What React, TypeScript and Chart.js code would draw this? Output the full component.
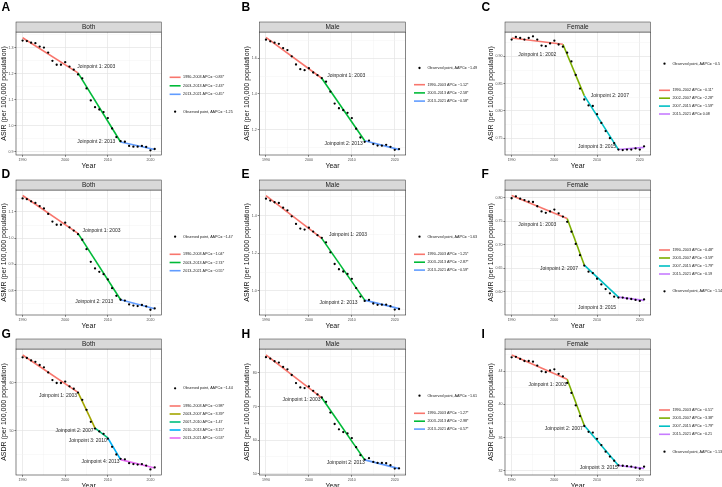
import React, { useEffect, useRef } from 'react';
import { Chart, registerables } from 'chart.js';

Chart.register(...registerables);

const FONT = '"Liberation Sans", Arial, Helvetica, sans-serif';

// ---------- data ----------
const years = [
  1990, 1991, 1992, 1993, 1994, 1995, 1996, 1997, 1998, 1999, 2000, 2001, 2002, 2003, 2004, 2005,
  2006, 2007, 2008, 2009, 2010, 2011, 2012, 2013, 2014, 2015, 2016, 2017, 2018, 2019, 2020, 2021,
];
const yearTicks = [1990, 2000, 2010, 2020];

// Age-standardised incidence rate
const asirBoth = [
  1.327, 1.325, 1.319, 1.317, 1.304, 1.3, 1.281, 1.249, 1.234, 1.234, 1.244, 1.227, 1.215, 1.197, 1.182, 1.143,
  1.097, 1.071, 1.062, 1.052, 1.029, 0.989, 0.956, 0.94, 0.938, 0.922, 0.919, 0.919, 0.922, 0.918, 0.905, 0.91,
];
const asirMale = [
  1.704, 1.695, 1.687, 1.681, 1.657, 1.646, 1.611, 1.565, 1.539, 1.533, 1.544, 1.52, 1.505, 1.489, 1.469, 1.413,
  1.346, 1.32, 1.309, 1.294, 1.265, 1.205, 1.156, 1.132, 1.139, 1.119, 1.111, 1.11, 1.115, 1.104, 1.087, 1.091,
];
const asirFemale = [
  0.931, 0.936, 0.934, 0.931, 0.934, 0.937, 0.931, 0.92, 0.919, 0.924, 0.929, 0.922, 0.918, 0.907, 0.891, 0.866,
  0.841, 0.821, 0.81, 0.809, 0.794, 0.778, 0.763, 0.75, 0.741, 0.729, 0.728, 0.729, 0.729, 0.731, 0.729, 0.735,
];
// Age-standardised mortality rate
const asmrBoth = [
  1.151, 1.148, 1.14, 1.134, 1.122, 1.113, 1.092, 1.063, 1.051, 1.051, 1.059, 1.041, 1.029, 1.015, 0.994, 0.958,
  0.91, 0.885, 0.872, 0.863, 0.843, 0.81, 0.781, 0.766, 0.763, 0.748, 0.744, 0.742, 0.746, 0.741, 0.728, 0.733,
];
const asmrMale = [
  1.49, 1.48, 1.471, 1.467, 1.442, 1.428, 1.396, 1.356, 1.331, 1.326, 1.336, 1.315, 1.296, 1.282, 1.258, 1.205,
  1.143, 1.115, 1.103, 1.09, 1.064, 1.015, 0.97, 0.947, 0.952, 0.933, 0.926, 0.927, 0.927, 0.919, 0.901, 0.904,
];
const asmrFemale = [
  0.799, 0.803, 0.798, 0.795, 0.792, 0.791, 0.782, 0.771, 0.768, 0.771, 0.775, 0.767, 0.76, 0.749, 0.728, 0.702,
  0.678, 0.656, 0.643, 0.64, 0.628, 0.616, 0.606, 0.597, 0.59, 0.588, 0.588, 0.586, 0.585, 0.583, 0.581, 0.584,
];
// Age-standardised DALY rate
const asdrBoth = [
  65.35, 65.2, 64.7, 64.4, 63.75, 63.26, 62.2, 60.6, 60.0, 60.0, 60.3, 59.3, 58.8, 58.0, 56.5, 54.4,
  51.9, 50.5, 49.9, 49.4, 48.4, 46.7, 45.1, 44.2, 44.1, 43.3, 43.1, 43.0, 43.1, 42.8, 42.0, 42.4,
];
const asdrMale = [
  84.7, 84.3, 83.5, 83.1, 81.8, 81.1, 79.4, 77.0, 75.7, 75.5, 76.0, 74.7, 73.6, 72.7, 71.4, 68.2,
  64.8, 63.2, 62.4, 62.0, 60.6, 57.9, 55.5, 54.2, 54.6, 53.5, 53.2, 53.2, 53.1, 52.5, 51.5, 51.6,
];
const asdrFemale = [
  45.7, 45.75, 45.5, 45.25, 45.25, 45.17, 44.7, 44.0, 43.9, 44.1, 44.24, 43.7, 43.4, 42.6, 41.4, 39.9,
  38.6, 37.4, 36.7, 36.6, 35.85, 35.1, 34.3, 33.7, 33.2, 32.64, 32.6, 32.55, 32.5, 32.36, 32.24, 32.48,
];

// Joinpoint years and fitted values at each joinpoint
const asirBothJoin = [1990, 2003, 2013, 2021];
const asirBothFit = [1.338, 1.203, 0.937, 0.908];
const asirBothApc = ['−0.83*', '−2.43*', '−0.45*'];
const asirMaleJoin = [1990, 2003, 2013, 2021];
const asirMaleFit = [1.717, 1.488, 1.138, 1.088];
const asirMaleApc = ['−1.12*', '−2.58*', '−0.58*'];
const asirFemaleJoin = [1990, 2002, 2007, 2015, 2021];
const asirFemaleFit = [0.934, 0.9225, 0.828, 0.729, 0.733];
const asirFemaleApc = ['−0.11*', '−2.28*', '−1.59*', '0.08'];
const asmrBothJoin = [1990, 2003, 2013, 2021];
const asmrBothFit = [1.162, 1.018, 0.766, 0.732];
const asmrBothApc = ['−1.04*', '−2.74*', '−0.55*'];
const asmrMaleJoin = [1990, 2003, 2013, 2021];
const asmrMaleFit = [1.506, 1.279, 0.951, 0.906];
const asmrMaleApc = ['−1.25*', '−2.87*', '−0.59*'];
const asmrFemaleJoin = [1990, 2003, 2007, 2015, 2021];
const asmrFemaleFit = [0.805, 0.756, 0.657, 0.589, 0.582];
const asmrFemaleApc = ['−0.48*', '−3.59*', '−1.79*', '−0.19'];
const asdrBothJoin = [1990, 2003, 2007, 2010, 2013, 2021];
const asdrBothFit = [65.83, 58.06, 50.6, 48.54, 44.03, 42.3];
const asdrBothApc = ['−0.98*', '−3.39*', '−1.47', '−3.15*', '−0.53*'];
const asdrMaleJoin = [1990, 2003, 2013, 2021];
const asdrMaleFit = [85.4, 72.6, 54.1, 51.5];
const asdrMaleApc = ['−1.27*', '−2.98*', '−0.57*'];
const asdrFemaleJoin = [1990, 2003, 2007, 2015, 2021];
const asdrFemaleFit = [45.97, 43.05, 37.45, 32.62, 32.28];
const asdrFemaleApc = ['−0.51*', '−3.38*', '−1.79*', '−0.21'];

const aapcValues = ['−1.25', '−1.49', '−0.5', '−1.47', '−1.63', '−1.14', '−1.44', '−1.61', '−1.13'];

// Y-axis tick labels
const asirBothTicks = [0.9, 1.0, 1.1, 1.2, 1.3];
const asirMaleTicks = [1.2, 1.4, 1.6];
const asirFemaleTicks = [0.75, 0.8, 0.85, 0.9];
const asmrBothTicks = [0.8, 0.9, 1.0, 1.1];
const asmrMaleTicks = [1.0, 1.2, 1.4];
const asmrFemaleTicks = [0.6, 0.65, 0.7, 0.75, 0.8];
const asdrBothTicks = [50, 60];
const asdrMaleTicks = [50, 60, 70, 80];
const asdrFemaleTicks = [32, 36, 40, 44];

// ---------- styling / layout ----------
const PALETTES: Record<number, string[]> = {
  3: ['#F8766D', '#00BA38', '#619CFF'],
  4: ['#F8766D', '#7CAE00', '#00BFC4', '#C77CFF'],
  5: ['#F8766D', '#A3A500', '#00BF7D', '#00B0F6', '#E76BF3'],
};

const COLS = [
  { x: 0, w: 240, padL: 0, yW: 16, plotRight: 161.3 },
  { x: 240, w: 240, padL: 2.8, yW: 16.5, plotRight: 165.7 },
  { x: 480, w: 242, padL: 6.8, yW: 18.2, plotRight: 170.7 },
];
const ROWS = [
  { y: 0, h: 170, letterY: 11 },
  { y: 158, h: 172, letterY: 20.3 },
  { y: 317, h: 173, letterY: 20.5 },
];
const PLOT_TOP = 32;
const X_AXIS_H = 15;
const STRIP_H = 10;

type PanelCfg = {
  letter: string;
  col: number;
  row: number;
  strip: string;
  yTitle: string;
  observed: number[];
  joinYears: number[];
  fit: number[];
  apc: string[];
  aapc: string;
  yMin: number;
  yMax: number;
  yTicks: number[];
  yDecimals: number;
  jpAnchors: [number, number][];
  linesFirst: boolean;
  pointY: number;
  lineY: number;
  lineStep: number;
};

const panels: PanelCfg[] = [
  {
    letter: 'A', col: 0, row: 0, strip: 'Both', yTitle: 'ASIR (per 100,000 population)',
    observed: asirBoth, joinYears: asirBothJoin, fit: asirBothFit, apc: asirBothApc, aapc: aapcValues[0],
    yMin: 0.887, yMax: 1.36, yTicks: asirBothTicks, yDecimals: 1,
    jpAnchors: [[2007.3, 1.227], [2007.3, 0.937]],
    linesFirst: true, pointY: 111.7, lineY: 77.3, lineStep: 8.5,
  },
  {
    letter: 'B', col: 1, row: 0, strip: 'Male', yTitle: 'ASIR (per 100,000 population)',
    observed: asirMale, joinYears: asirMaleJoin, fit: asirMaleFit, apc: asirMaleApc, aapc: aapcValues[1],
    yMin: 1.058, yMax: 1.747, yTicks: asirMaleTicks, yDecimals: 1,
    jpAnchors: [[2008.7, 1.502], [2008.1, 1.124]],
    linesFirst: false, pointY: 68, lineY: 84.7, lineStep: 8.2,
  },
  {
    letter: 'C', col: 2, row: 0, strip: 'Female', yTitle: 'ASIR (per 100,000 population)',
    observed: asirFemale, joinYears: asirFemaleJoin, fit: asirFemaleFit, apc: asirFemaleApc, aapc: aapcValues[2],
    yMin: 0.719, yMax: 0.945, yTicks: asirFemaleTicks, yDecimals: 2,
    jpAnchors: [[1996.0, 0.904], [2013.0, 0.829], [2010.0, 0.7335]],
    linesFirst: false, pointY: 63.7, lineY: 90.3, lineStep: 7.9,
  },
  {
    letter: 'D', col: 0, row: 1, strip: 'Both', yTitle: 'ASMR (per 100,000 population)',
    observed: asmrBoth, joinYears: asmrBothJoin, fit: asmrBothFit, apc: asmrBothApc, aapc: aapcValues[3],
    yMin: 0.708, yMax: 1.183, yTicks: asmrBothTicks, yDecimals: 1,
    jpAnchors: [[2008.5, 1.029], [2006.8, 0.758]],
    linesFirst: false, pointY: 78.7, lineY: 96.3, lineStep: 8.2,
  },
  {
    letter: 'E', col: 1, row: 1, strip: 'Male', yTitle: 'ASMR (per 100,000 population)',
    observed: asmrMale, joinYears: asmrMaleJoin, fit: asmrMaleFit, apc: asmrMaleApc, aapc: aapcValues[4],
    yMin: 0.872, yMax: 1.536, yTicks: asmrMaleTicks, yDecimals: 1,
    jpAnchors: [[2009.1, 1.299], [2006.9, 0.936]],
    linesFirst: false, pointY: 78.7, lineY: 96.3, lineStep: 7.9,
  },
  {
    letter: 'F', col: 2, row: 1, strip: 'Female', yTitle: 'ASMR (per 100,000 population)',
    observed: asmrFemale, joinYears: asmrFemaleJoin, fit: asmrFemaleFit, apc: asmrFemaleApc, aapc: aapcValues[5],
    yMin: 0.551, yMax: 0.8165, yTicks: asmrFemaleTicks, yDecimals: 2,
    jpAnchors: [[1996.0, 0.743], [2001.1, 0.65], [2010.0, 0.567]],
    linesFirst: true, pointY: 133.3, lineY: 92, lineStep: 8,
  },
  {
    letter: 'G', col: 0, row: 2, strip: 'Both', yTitle: 'ASDR (per 100,000 population)',
    observed: asdrBoth, joinYears: asdrBothJoin, fit: asdrBothFit, apc: asdrBothApc, aapc: aapcValues[6],
    yMin: 40.83, yMax: 67.08, yTicks: asdrBothTicks, yDecimals: 0,
    jpAnchors: [[1998.3, 57.36], [2002.2, 50.07], [2005.3, 48.0], [2008.3, 43.7]],
    linesFirst: false, pointY: 71.3, lineY: 89, lineStep: 8,
  },
  {
    letter: 'H', col: 1, row: 2, strip: 'Male', yTitle: 'ASDR (per 100,000 population)',
    observed: asdrMale, joinYears: asdrMaleJoin, fit: asdrMaleFit, apc: asdrMaleApc, aapc: aapcValues[7],
    yMin: 49.6, yMax: 87.15, yTicks: asdrMaleTicks, yDecimals: 0,
    jpAnchors: [[1998.3, 72.0], [2008.6, 53.35]],
    linesFirst: false, pointY: 78.7, lineY: 96.3, lineStep: 7.9,
  },
  {
    letter: 'I', col: 2, row: 2, strip: 'Female', yTitle: 'ASDR (per 100,000 population)',
    observed: asdrFemale, joinYears: asdrFemaleJoin, fit: asdrFemaleFit, apc: asdrFemaleApc, aapc: aapcValues[8],
    yMin: 31.48, yMax: 46.7, yTicks: asdrFemaleTicks, yDecimals: 0,
    jpAnchors: [[1998.4, 42.39], [2002.2, 37.14], [2010.4, 32.4]],
    linesFirst: true, pointY: 134.7, lineY: 93, lineStep: 8.1,
  },
];

// midpoints between major breaks (ggplot-style minor grid)
function withMinors(majors: number[], lo: number, hi: number) {
  const step = majors.length > 1 ? majors[1] - majors[0] : 10;
  const minors: number[] = [];
  for (let i = -1; i < majors.length; i++) {
    const base = i < 0 ? majors[0] - step : majors[i];
    const m = base + step / 2;
    if (m > lo && m < hi) minors.push(+m.toFixed(6));
  }
  return [...majors.filter((v) => v >= lo && v <= hi), ...minors].sort((a, b) => a - b);
}

const isIn = (arr: number[], v: number) => arr.some((m) => Math.abs(m - v) < 1e-7);

function JoinpointPanel({ cfg }: { cfg: PanelCfg }) {
  const ref = useRef<HTMLCanvasElement | null>(null);
  const col = COLS[cfg.col];
  const row = ROWS[cfg.row];

  useEffect(() => {
    const canvas = ref.current;
    if (!canvas) return;
    const nSeg = cfg.joinYears.length - 1;
    const palette = PALETTES[nSeg];
    const xMin = 1988.45;
    const xMax = 2022.55;
    const xAll = withMinors(yearTicks, xMin, xMax);
    const yAll = withMinors(cfg.yTicks, cfg.yMin, cfg.yMax);

    const segLabel = (i: number) =>
      `${cfg.joinYears[i]}–${cfg.joinYears[i + 1]} APC= ${cfg.apc[i]}`;

    const segments = cfg.apc.map((_, i) => ({
      label: segLabel(i),
      data: [
        { x: cfg.joinYears[i], y: cfg.fit[i] },
        { x: cfg.joinYears[i + 1], y: cfg.fit[i + 1] },
      ],
      showLine: true,
      borderColor: palette[i],
      backgroundColor: palette[i],
      borderWidth: 1.6,
      pointRadius: 0,
      order: 1,
    }));

    const observed = {
      label: `Observed point, AAPC= ${cfg.aapc}`,
      data: years.map((x, i) => ({ x, y: cfg.observed[i] })),
      showLine: false,
      backgroundColor: '#000',
      borderWidth: 0,
      pointRadius: 1.15,
      order: 0,
    };

    const decor = {
      id: 'panelDecor',
      afterDatasetsDraw(chart: any) {
        const { ctx, scales } = chart;
        ctx.save();
        ctx.font = `5px ${FONT}`;
        ctx.fillStyle = '#262626';
        ctx.textAlign = 'center';
        ctx.textBaseline = 'middle';
        cfg.jpAnchors.forEach(([x, y], i) => {
          ctx.fillText(
            `Joinpoint ${i + 1}: ${cfg.joinYears[i + 1]}`,
            scales.x.getPixelForValue(x),
            scales.y.getPixelForValue(y)
          );
        });
        ctx.restore();
      },
      afterDraw(chart: any) {
        const { ctx, chartArea: a } = chart;
        ctx.save();
        // panel border
        ctx.strokeStyle = '#333';
        ctx.lineWidth = 0.6;
        ctx.strokeRect(a.left, a.top, a.right - a.left, a.bottom - a.top);
        // facet strip
        const sTop = a.top - STRIP_H;
        ctx.fillStyle = '#D9D9D9';
        ctx.fillRect(a.left, sTop, a.right - a.left, STRIP_H);
        ctx.lineWidth = 0.5;
        ctx.strokeRect(a.left, sTop, a.right - a.left, STRIP_H);
        ctx.fillStyle = '#1A1A1A';
        ctx.font = `6.5px ${FONT}`;
        ctx.textAlign = 'center';
        ctx.textBaseline = 'middle';
        ctx.fillText(cfg.strip, (a.left + a.right) / 2, sTop + STRIP_H / 2 + 0.3);

        // legend
        const k0 = a.right + 8.3;
        const k1 = a.right + 19.3;
        const tx = a.right + 21.8;
        ctx.font = `3.7px ${FONT}`;
        ctx.textAlign = 'left';
        ctx.textBaseline = 'middle';
        ctx.fillStyle = '#000';
        ctx.beginPath();
        ctx.arc((k0 + k1) / 2, cfg.pointY, 1.15, 0, Math.PI * 2);
        ctx.fill();
        ctx.fillStyle = '#1A1A1A';
        ctx.fillText(observed.label, tx, cfg.pointY);
        segments.forEach((s, i) => {
          const y = cfg.lineY + i * cfg.lineStep;
          ctx.strokeStyle = s.borderColor;
          ctx.lineWidth = 1.6;
          ctx.beginPath();
          ctx.moveTo(k0, y);
          ctx.lineTo(k1, y);
          ctx.stroke();
          ctx.fillStyle = '#1A1A1A';
          ctx.fillText(s.label, tx, y);
        });

        // panel tag
        ctx.fillStyle = '#000';
        ctx.font = `bold 12px ${FONT}`;
        ctx.textAlign = 'left';
        ctx.textBaseline = 'alphabetic';
        ctx.fillText(cfg.letter, 1.5 - col.padL * 0, row.letterY);
        ctx.restore();
      },
    };

    const gridColor = (majors: number[]) => (c: any) =>
      c.tick && isIn(majors, c.tick.value) ? '#E4E4E4' : '#F1F1F1';
    const gridWidth = (majors: number[]) => (c: any) =>
      c.tick && isIn(majors, c.tick.value) ? 0.7 : 0.45;
    const tickColor = (majors: number[]) => (c: any) =>
      c.tick && isIn(majors, c.tick.value) ? '#333' : 'rgba(0,0,0,0)';

    const chart = new Chart(canvas, {
      type: 'scatter',
      data: { datasets: [observed as any, ...segments] },
      plugins: [decor],
      options: {
        animation: false,
        responsive: false,
        maintainAspectRatio: false,
        devicePixelRatio: 1,
        layout: {
          padding: { left: col.padL, right: col.w - col.plotRight, top: PLOT_TOP, bottom: 0 },
        },
        plugins: {
          legend: { display: false },
          tooltip: { enabled: false },
          title: { display: false },
        },
        scales: {
          x: {
            type: 'linear',
            min: xMin,
            max: xMax,
            afterBuildTicks: (s: any) => {
              s.ticks = xAll.map((v) => ({ value: v }));
            },
            afterFit: (s: any) => {
              s.height = X_AXIS_H;
            },
            ticks: {
              autoSkip: false,
              maxRotation: 0,
              minRotation: 0,
              padding: 1,
              color: '#4D4D4D',
              font: { family: FONT, size: 3.6 },
              callback: (v: any) => (isIn(yearTicks, Number(v)) ? String(v) : ''),
            },
            grid: {
              color: gridColor(yearTicks),
              lineWidth: gridWidth(yearTicks),
              tickColor: tickColor(yearTicks),
              tickWidth: 0.6,
              tickLength: 1.8,
              drawTicks: true,
            },
            border: { display: false },
            title: {
              display: true,
              text: 'Year',
              color: '#111',
              padding: 0,
              font: { family: FONT, size: 7 },
            },
          },
          y: {
            type: 'linear',
            min: cfg.yMin,
            max: cfg.yMax,
            afterBuildTicks: (s: any) => {
              s.ticks = yAll.map((v) => ({ value: v }));
            },
            afterFit: (s: any) => {
              s.width = col.yW;
            },
            ticks: {
              autoSkip: false,
              padding: 1,
              color: '#4D4D4D',
              font: { family: FONT, size: 3.6 },
              callback: (v: any) =>
                isIn(cfg.yTicks, Number(v)) ? Number(v).toFixed(cfg.yDecimals) : '',
            },
            grid: {
              color: gridColor(cfg.yTicks),
              lineWidth: gridWidth(cfg.yTicks),
              tickColor: tickColor(cfg.yTicks),
              tickWidth: 0.6,
              tickLength: 1.6,
              drawTicks: true,
            },
            border: { display: false },
            title: {
              display: true,
              text: cfg.yTitle,
              color: '#111',
              padding: 0,
              font: { family: FONT, size: 7 },
            },
          },
        },
      } as any,
    });
    return () => chart.destroy();
  }, [cfg]);

  return (
    <canvas
      ref={ref}
      width={col.w}
      height={row.h}
      style={{ position: 'absolute', left: col.x, top: row.y, width: col.w, height: row.h }}
    />
  );
}

export default function App() {
  return (
    <div
      style={{
        position: 'absolute',
        left: 0,
        top: 0,
        width: 722,
        height: 487,
        overflow: 'hidden',
        background: '#fff',
      }}
    >
      {panels.map((p) => (
        <JoinpointPanel key={p.letter} cfg={p} />
      ))}
    </div>
  );
}
